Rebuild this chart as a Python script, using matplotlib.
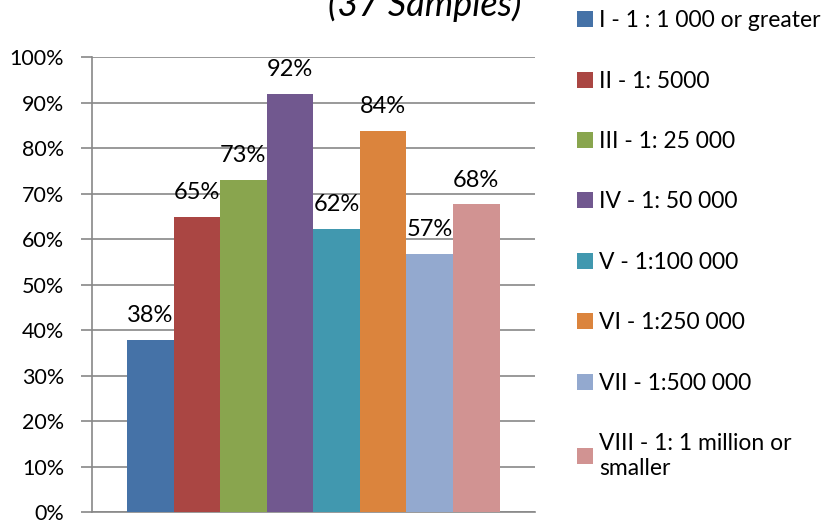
import numpy as np
import matplotlib.pyplot as plt
from matplotlib.ticker import PercentFormatter, MultipleLocator

plt.rcParams['font.family'] = ['Lato', 'DejaVu Sans']

# shares of the 37 samples, per map scale class
categories = ['I - 1 : 1 000 or greater', 'II - 1: 5000', 'III - 1: 25 000',
              'IV - 1: 50 000', 'V - 1:100 000', 'VI - 1:250 000',
              'VII - 1:500 000', 'VIII - 1: 1 million or\nsmaller']
shares = [37.8, 64.9, 73.0, 91.9, 62.2, 83.8, 56.8, 67.6]
colors = ['#4572A7', '#AA4643', '#89A54E', '#71588F',
          '#4198AF', '#DB843D', '#93A9CF', '#D19392']

fig = plt.figure(figsize=(8.32, 5.24), dpi=100)
ax = fig.add_axes([0.1106, 0.0229, 0.5319, 0.8683])

x = np.arange(len(shares))
bars = ax.bar(x, shares, width=1.0, color=colors, label=categories, zorder=3)
ax.bar_label(bars, labels=[f'{v:.0f}%' for v in shares], padding=10,
             fontsize=17, zorder=4)

ax.set_ylim(0, 100)
ax.set_xlim(-1.25, 8.25)
ax.yaxis.set_major_locator(MultipleLocator(10))
ax.yaxis.set_major_formatter(PercentFormatter(decimals=0))
ax.set_xticks([])
ax.grid(axis='y', color='#888888', linewidth=1.2, zorder=0)
for side in ['top', 'right']:
    ax.spines[side].set_visible(False)
for side in ['left', 'bottom']:
    ax.spines[side].set_color('#888888')
    ax.spines[side].set_linewidth(1.2)
ax.tick_params(axis='y', length=8, width=1.2, color='#888888',
               labelsize=15.5, pad=12)

fig.text(0.51, 0.97, '(37 Samples)', fontsize=26, style='italic',
         ha='center', va='baseline')

fig.legend(handles=bars.patches, labels=categories, loc='upper left',
           bbox_to_anchor=(0.683, 0.998), frameon=False, fontsize=16.5,
           handlelength=0.7, handleheight=0.7, handletextpad=0.25,
           labelspacing=1.72, borderaxespad=0)

fig.savefig('out.png', dpi=100)
